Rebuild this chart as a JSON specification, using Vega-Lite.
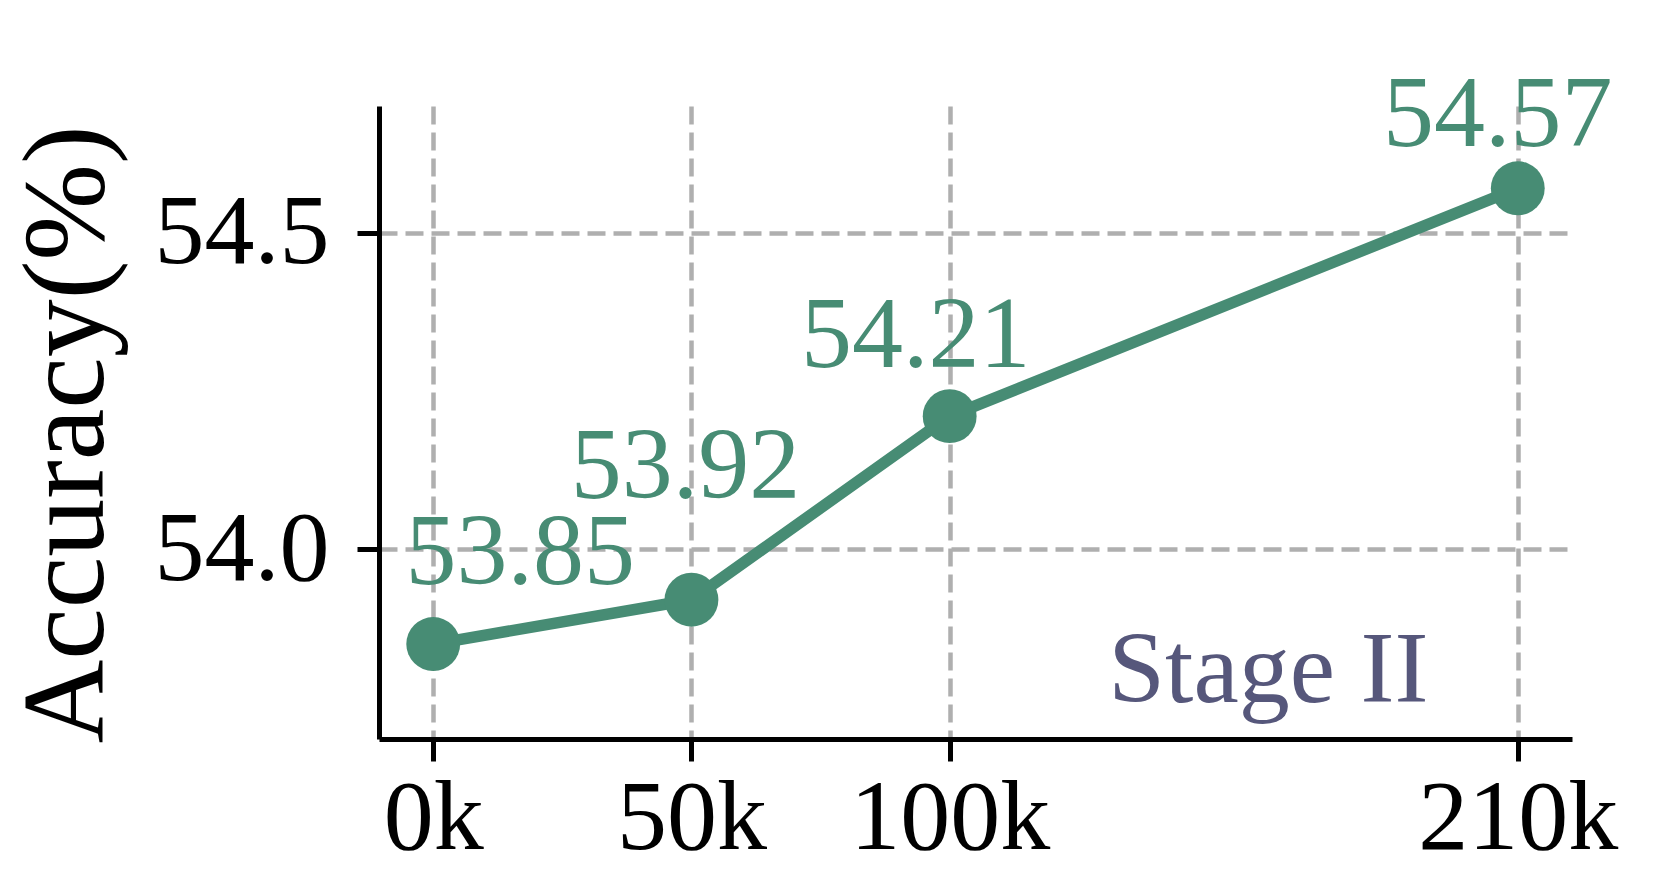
{
  "$schema": "https://vega.github.io/schema/vega-lite/v6.json",
  "width": 1193,
  "height": 633,
  "autosize": {"type": "none"},
  "padding": {"left": 379, "top": 106, "right": 91, "bottom": 146},
  "background": "white",
  "config": {
    "view": {"stroke": null},
    "font": "Liberation Serif"
  },
  "data": {
    "values": [
      {"step": 0, "acc": 53.85},
      {"step": 50, "acc": 53.92},
      {"step": 100, "acc": 54.21},
      {"step": 210, "acc": 54.57}
    ]
  },
  "encoding": {
    "x": {
      "field": "step",
      "type": "quantitative",
      "scale": {"domain": [-10.5, 220.5], "nice": false, "zero": false},
      "axis": {
        "title": null,
        "values": [0, 50, 100, 210],
        "labelExpr": "datum.value + 'k'",
        "labelFont": "Liberation Serif",
        "labelFontSize": 100,
        "labelColor": "black",
        "labelPadding": 8,
        "labelLimit": 0,
        "labelFlush": false,
        "labelOverlap": false,
        "tickSize": 22,
        "tickWidth": 5,
        "tickColor": "black",
        "domainColor": "black",
        "domainWidth": 5,
        "grid": true,
        "gridColor": "#afafaf",
        "gridWidth": 4.5,
        "gridDash": [18, 8]
      }
    },
    "y": {
      "field": "acc",
      "type": "quantitative",
      "scale": {"domain": [53.7, 54.7], "nice": false, "zero": false},
      "axis": {
        "title": "Accuracy(%)",
        "titleFont": "Liberation Serif",
        "titleFontSize": 116,
        "titleFontWeight": "normal",
        "titleColor": "black",
        "titleAngle": 270,
        "titleAlign": "center",
        "titleBaseline": "alphabetic",
        "titleX": -277,
        "titleY": 328,
        "values": [54.0, 54.5],
        "format": ".1f",
        "labelFont": "Liberation Serif",
        "labelFontSize": 100,
        "labelColor": "black",
        "labelPadding": 28,
        "labelLimit": 0,
        "labelFlush": false,
        "labelOverlap": false,
        "tickSize": 22,
        "tickWidth": 5,
        "tickColor": "black",
        "domainColor": "black",
        "domainWidth": 5,
        "grid": true,
        "gridColor": "#afafaf",
        "gridWidth": 4.5,
        "gridDash": [18, 8]
      }
    }
  },
  "layer": [
    {
      "mark": {"type": "line", "color": "#478c74", "strokeWidth": 11.5},
      "encoding": {}
    },
    {
      "mark": {"type": "point", "filled": true, "color": "#478c74", "opacity": 1, "size": 2900}
    },
    {
      "transform": [{"filter": "datum.step == 0"}],
      "mark": {"type": "text", "color": "#478c74", "fontSize": 102, "font": "Liberation Serif", "align": "center", "baseline": "alphabetic", "dx": 87, "dy": -60},
      "encoding": {"text": {"field": "acc", "type": "quantitative", "format": ".2f"}}
    },
    {
      "transform": [{"filter": "datum.step == 50"}],
      "mark": {"type": "text", "color": "#478c74", "fontSize": 102, "font": "Liberation Serif", "align": "center", "baseline": "alphabetic", "dx": -6, "dy": -102},
      "encoding": {"text": {"field": "acc", "type": "quantitative", "format": ".2f"}}
    },
    {
      "transform": [{"filter": "datum.step == 100"}],
      "mark": {"type": "text", "color": "#478c74", "fontSize": 102, "font": "Liberation Serif", "align": "center", "baseline": "alphabetic", "dx": -34, "dy": -49},
      "encoding": {"text": {"field": "acc", "type": "quantitative", "format": ".2f"}}
    },
    {
      "transform": [{"filter": "datum.step == 210"}],
      "mark": {"type": "text", "color": "#478c74", "fontSize": 102, "font": "Liberation Serif", "align": "center", "baseline": "alphabetic", "dx": -20, "dy": -42},
      "encoding": {"text": {"field": "acc", "type": "quantitative", "format": ".2f"}}
    },
    {
      "data": {"values": [{"step": 161.7, "acc": 53.7585, "label": "Stage II"}]},
      "mark": {"type": "text", "color": "#56577b", "fontSize": 102, "font": "Liberation Serif", "align": "center", "baseline": "alphabetic"},
      "encoding": {"text": {"field": "label"}}
    }
  ]
}
